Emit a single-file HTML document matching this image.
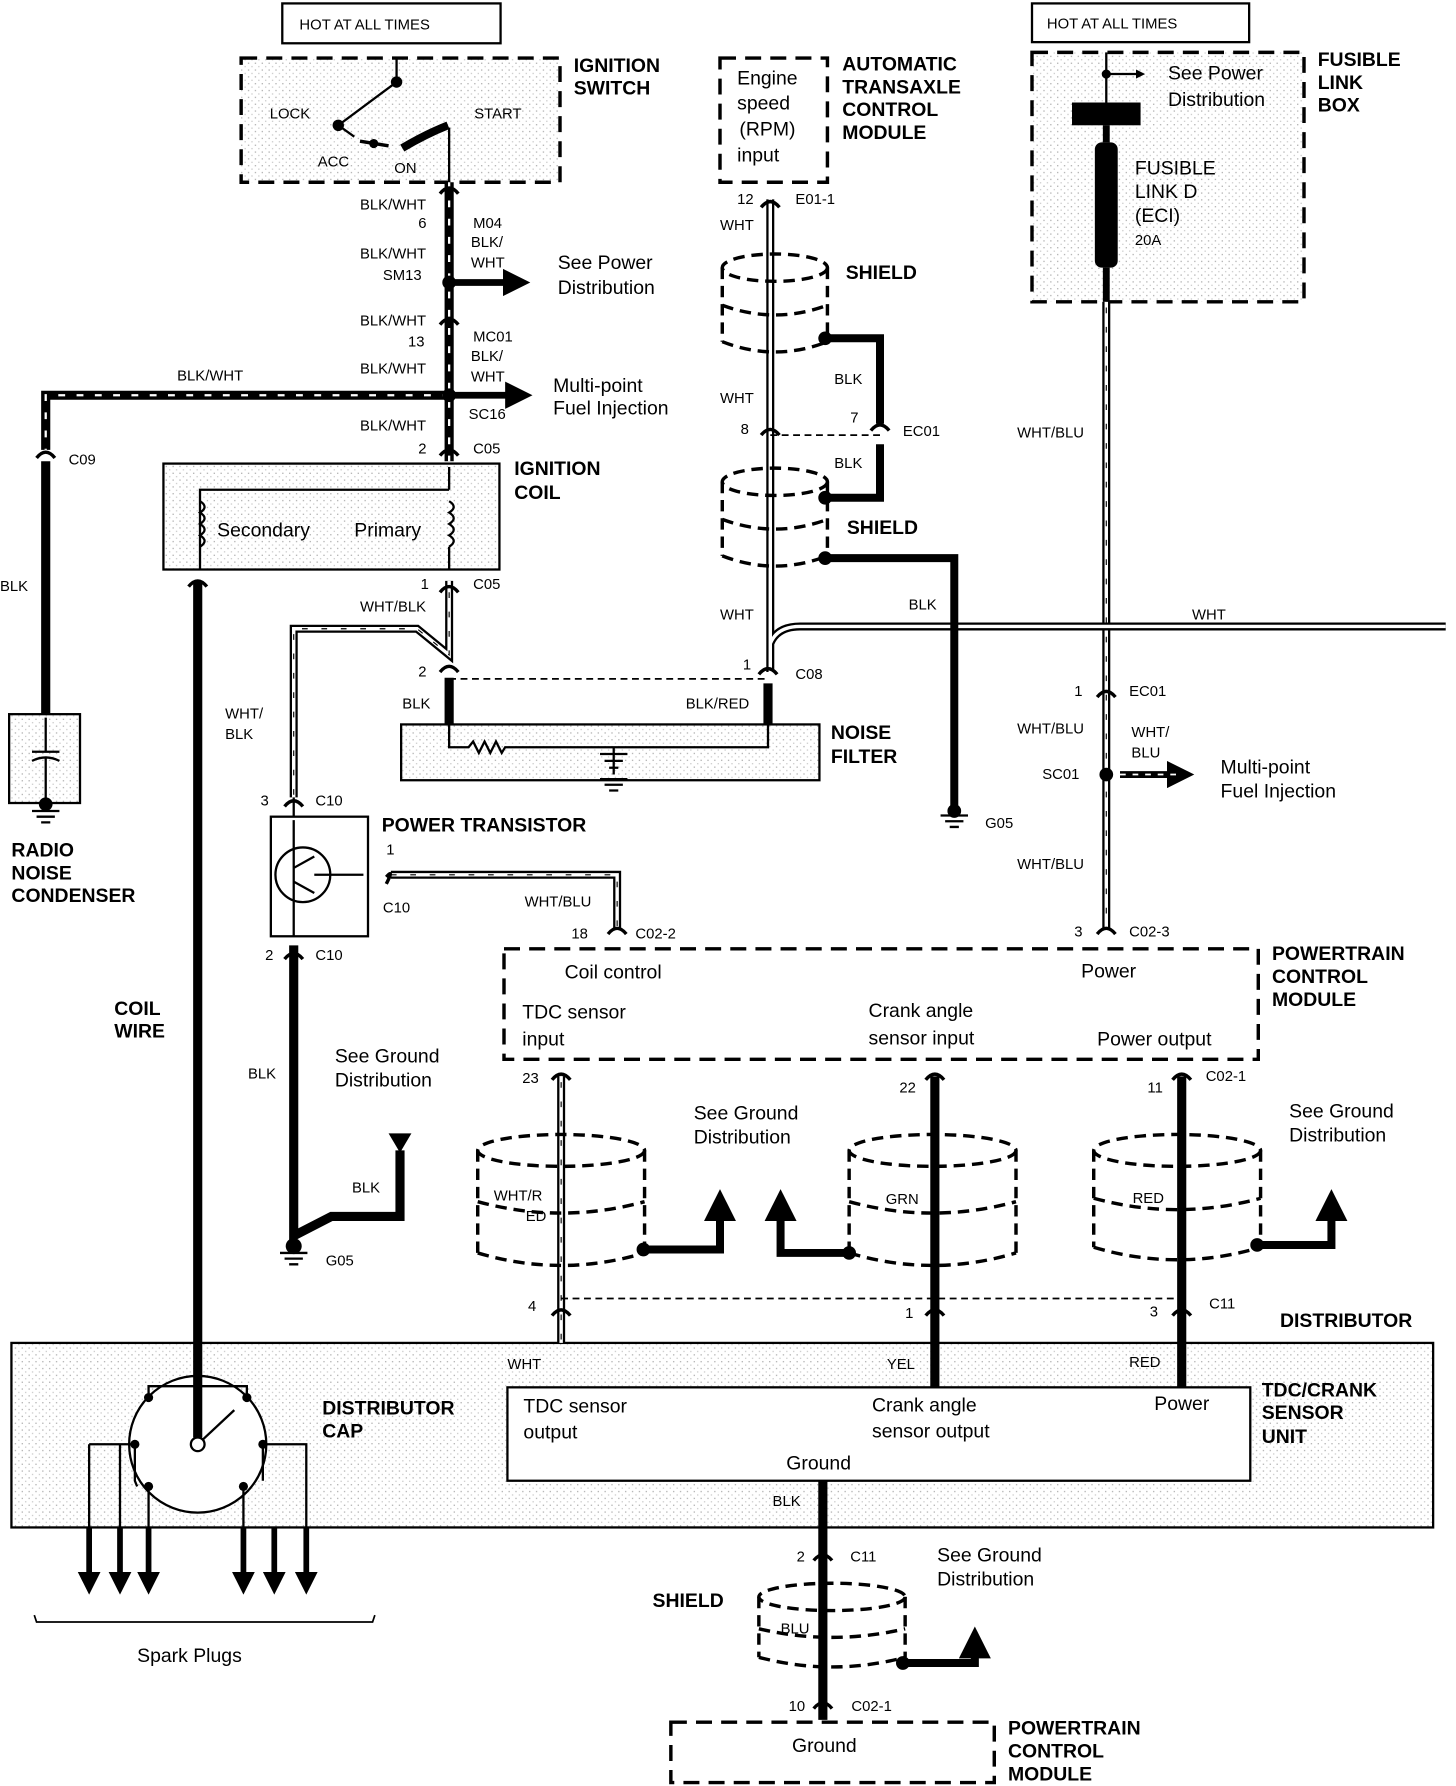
<!DOCTYPE html>
<html><head><meta charset="utf-8"><style>
html,body{margin:0;padding:0;background:#fff;}
svg{display:block;}
text{font-family:"Liberation Sans",sans-serif;fill:#000;}
.s{font-size:13px;}
.m{font-size:17px;}
.b{font-size:17px;font-weight:bold;}
</style></head><body>
<svg width="1456" height="1786" viewBox="0 0 1274 1568" preserveAspectRatio="none" xmlns="http://www.w3.org/2000/svg">
<defs>
<pattern id="st" width="6" height="6" patternUnits="userSpaceOnUse">
<rect width="6" height="6" fill="#fff"/><rect x="1" y="1" width="1" height="1" fill="#999"/><rect x="4" y="4" width="1" height="1" fill="#bbb"/>
</pattern>
<marker id="ar" markerWidth="4" markerHeight="4" refX="2" refY="2" orient="auto" markerUnits="strokeWidth"><path d="M0,0 L4,2 L0,4 z" fill="#000"/></marker>
</defs>
<g fill="none" stroke="#000">
<rect x="247" y="3" width="191" height="35" stroke-width="2"/>
<rect x="903" y="3" width="190" height="34" stroke-width="2"/>
<rect x="211" y="51" width="279" height="109" fill="url(#st)" stroke-width="3" stroke-dasharray="14,8"/>
<path d="M347,51 L347,72 L296,110 L310,120" stroke-width="2"/>
<path d="M315,124 L340,128" stroke-width="3"/>
<path d="M352,130 Q372,118 392,110" stroke-width="7"/>
<path d="M393,112 L393,160" stroke-width="2"/>
<rect x="630" y="51" width="94" height="109" stroke-width="3" stroke-dasharray="14,8"/>
<rect x="903" y="46" width="238" height="219" fill="url(#st)" stroke-width="3" stroke-dasharray="14,8"/>
<path d="M968,46 L968,90" stroke-width="2"/>
<rect x="143" y="407" width="294" height="93" fill="url(#st)" stroke-width="2"/>
<path d="M393,410 L393,430 M393,480 L393,500 M175,500 L175,430 L393,430" stroke-width="2"/>
<path d="M393,440 q8,5 0,10 q8,5 0,10 q8,5 0,10 q8,5 0,10" stroke-width="2"/>
<path d="M175,440 q8,5 0,10 q8,5 0,10 q8,5 0,10 q8,5 0,10" stroke-width="2"/>
<rect x="8" y="627" width="62" height="78" fill="url(#st)" stroke-width="2"/>
<path d="M40,630 L40,660 M28,660 L52,660 M28,668 Q40,662 52,668 M40,666 L40,705" stroke-width="2"/>
<rect x="351" y="636" width="366" height="49" fill="url(#st)" stroke-width="2"/>
<path d="M393,636 L393,656 L410,656 l4,-5 l5,10 l5,-10 l5,10 l5,-10 l5,10 l3,-5 L672,656 L672,636 M537,656 L537,680" stroke-width="2"/>
<path d="M525,662 L549,662 M529,668 L545,668 M533,674 L541,674" stroke-width="2"/>
<rect x="237" y="717" width="85" height="105" stroke-width="2"/>
<circle cx="265" cy="768" r="24" stroke-width="2"/>
<path d="M257,755 L257,781 M257,762 L275,752 M257,774 L275,784 M257,700 L257,717 M257,822 L257,720 M275,768 L318,768" stroke-width="2"/>
<rect x="441" y="833" width="660" height="97" stroke-width="3" stroke-dasharray="14,8"/>
<rect x="10" y="1179" width="1244" height="162" fill="url(#st)" stroke-width="2"/>
<rect x="444" y="1218" width="650" height="82" fill="#fff" stroke-width="2"/>
<circle cx="173" cy="1268" r="60" fill="#fff" stroke-width="2"/>
<path d="M130,1227 L130,1217 L216,1217 L216,1227 M105,1268 L118,1268 L118,1300 L120,1305 M240,1268 L230,1268 L230,1300 M78,1268 L105,1268 L105,1341 M240,1268 L268,1268 L268,1341 M130,1305 L130,1341 M213,1305 L213,1341" stroke-width="2"/>
<path d="M173,1268 L205,1238" stroke-width="2"/>
<path d="M78,1268 L78,1341" stroke-width="2"/>
<rect x="587" y="1512" width="283" height="53" stroke-width="3" stroke-dasharray="14,8"/>
<path d="M30,1418 L32,1424 L326,1424 L328,1418" stroke-width="1.5"/>
</g>
<g fill="#000">
<circle cx="347" cy="72" r="5"/><circle cx="296" cy="110" r="5"/><circle cx="327" cy="126" r="4"/>
<circle cx="968" cy="65" r="4"/>
<rect x="938" y="90" width="60" height="20"/>
<rect x="958" y="125" width="20" height="110" rx="6"/>
<circle cx="130" cy="1227" r="4"/><circle cx="216" cy="1227" r="4"/><circle cx="118" cy="1268" r="4"/><circle cx="230" cy="1268" r="4"/><circle cx="130" cy="1305" r="4"/><circle cx="213" cy="1305" r="4"/>
<circle cx="173" cy="1268" r="6" fill="#fff" stroke="#000" stroke-width="2"/>
</g>
<path d="M968,110 L968,125 M968,235 L968,265" stroke="#000" stroke-width="6"/>
<g fill="none">
<path d="M393,160 L393,405 M393,347 L40,347 L40,395" stroke="#000" stroke-width="8"/>
<path d="M393,160 L393,405 M393,347 L40,347 L40,395" stroke="#fff" stroke-width="2" stroke-dasharray="6,10"/>
<path d="M393,510 L393,575 L365,552 L257,552 L257,700" stroke="#000" stroke-width="7"/>
<path d="M393,510 L393,575 L365,552 L257,552 L257,700" stroke="#fff" stroke-width="3"/>
<path d="M393,520 L393,575 L365,552 L257,552 L257,700" stroke="#000" stroke-width="1" stroke-dasharray="5,12"/>
<path d="M968,265 L968,815 M342,768 L540,768 L540,815" stroke="#000" stroke-width="7"/>
<path d="M968,265 L968,815 M342,768 L540,768 L540,815" stroke="#fff" stroke-width="3"/>
<path d="M968,270 L968,815 M342,768 L540,768 L540,815" stroke="#000" stroke-width="1" stroke-dasharray="5,12"/>
<path d="M674,175 L674,590 M674,565 Q680,550 700,550 L1265,550" stroke="#000" stroke-width="7"/>
<path d="M674,175 L674,590 M674,565 Q680,550 700,550 L1265,550" stroke="#fff" stroke-width="3"/>
<path d="M491,945 L491,1179" stroke="#000" stroke-width="7"/>
<path d="M491,945 L491,1179" stroke="#fff" stroke-width="3"/>
<path d="M491,950 L491,1179" stroke="#000" stroke-width="1" stroke-dasharray="5,12"/>
<path d="M40,405 L40,627 M393,595 L393,636 M672,600 L672,636 M173,510 L173,1262 M257,830 L257,1085 L290,1068 L350,1068 L350,1010 M818,945 L818,1218 M1034,945 L1034,1218 M720,1300 L720,1510" stroke="#000" stroke-width="8"/>
<path d="M722,297 L770,297 L770,372 M722,437 L770,437 L770,390 M722,490 L835,490 L835,710" stroke="#000" stroke-width="7"/>
<path d="M393,596 L672,596 M674,382 L770,382 M491,1140 L1034,1140" stroke="#000" stroke-width="1.5" stroke-dasharray="6,4"/>
<!-- arrows (each separate) -->
<path d="M393,248 L452,248" stroke="#000" stroke-width="6" marker-end="url(#ar)"/>
<path d="M393,347 L454,347" stroke="#000" stroke-width="6" marker-end="url(#ar)"/>
<path d="M980,680 L1033,680" stroke="#000" stroke-width="6" marker-end="url(#ar)"/>
<path d="M980,680 L1030,680" stroke="#fff" stroke-width="1.5" stroke-dasharray="5,6"/>
<path d="M968,65 L998,65" stroke="#000" stroke-width="2" marker-end="url(#ar)"/>
<path d="M563,1097 L630,1097 L630,1058" stroke="#000" stroke-width="7" marker-end="url(#ar)"/>
<path d="M743,1100 L683,1100 L683,1058" stroke="#000" stroke-width="7" marker-end="url(#ar)"/>
<path d="M1100,1093 L1165,1093 L1165,1058" stroke="#000" stroke-width="7" marker-end="url(#ar)"/>
<path d="M790,1460 L853,1460 L853,1442" stroke="#000" stroke-width="7" marker-end="url(#ar)"/>
<path d="M78,1341 L78,1390" stroke="#000" stroke-width="5" marker-end="url(#ar)"/>
<path d="M105,1341 L105,1390" stroke="#000" stroke-width="5" marker-end="url(#ar)"/>
<path d="M130,1341 L130,1390" stroke="#000" stroke-width="5" marker-end="url(#ar)"/>
<path d="M213,1341 L213,1390" stroke="#000" stroke-width="5" marker-end="url(#ar)"/>
<path d="M240,1341 L240,1390" stroke="#000" stroke-width="5" marker-end="url(#ar)"/>
<path d="M268,1341 L268,1390" stroke="#000" stroke-width="5" marker-end="url(#ar)"/>
<g stroke="#000" stroke-width="3" stroke-dasharray="10,6">
<ellipse cx="678" cy="235" rx="46" ry="12"/><path d="M632,235 L632,300 M724,235 L724,300 M632,300 Q678,318 724,300 M632,268 Q678,285 724,268"/>
<ellipse cx="678" cy="423" rx="46" ry="12"/><path d="M632,423 L632,488 M724,423 L724,488 M632,488 Q678,506 724,488 M632,456 Q678,473 724,456"/>
<ellipse cx="491" cy="1010" rx="73" ry="14"/><path d="M418,1010 L418,1100 M564,1010 L564,1100 M418,1100 Q491,1122 564,1100 M418,1055 Q491,1075 564,1055"/>
<ellipse cx="816" cy="1010" rx="73" ry="14"/><path d="M743,1010 L743,1100 M889,1010 L889,1100 M743,1100 Q816,1122 889,1100 M743,1055 Q816,1075 889,1055"/>
<ellipse cx="1030" cy="1010" rx="73" ry="14"/><path d="M957,1010 L957,1095 M1103,1010 L1103,1095 M957,1095 Q1030,1117 1103,1095 M957,1052 Q1030,1072 1103,1052"/>
<ellipse cx="728" cy="1402" rx="64" ry="12"/><path d="M664,1402 L664,1455 M792,1402 L792,1455 M664,1455 Q728,1472 792,1455 M664,1430 Q728,1445 792,1430"/>
</g>
<g stroke="#000" stroke-width="3" fill="none">
<path d="M385,170 Q393,160 401,170 M385,285 Q393,275 401,285 M385,400 Q393,390 401,400 M385,520 Q393,510 401,520 M385,590 Q393,580 401,590 M32,402 Q40,392 48,402 M666,182 Q674,172 682,182 M666,382 Q674,372 682,382 M762,378 Q770,368 778,378 M664,592 Q672,582 680,592 M960,612 Q968,602 976,612 M960,820 Q968,810 976,820 M532,820 Q540,810 548,820 M249,708 Q257,698 265,708 M249,842 Q257,832 265,842 M338,770 Q345,762 338,776 M165,515 Q173,505 181,515 M483,948 Q491,938 499,948 M810,948 Q818,938 826,948 M1026,948 Q1034,938 1042,948 M483,1155 Q491,1145 499,1155 M810,1155 Q818,1145 826,1155 M1026,1155 Q1034,1145 1042,1155 M712,1370 Q720,1360 728,1370 M712,1500 Q720,1490 728,1500"/>
</g>
<g stroke="#000" stroke-width="2">
<path d="M28,712 L52,712 M32,717 L48,717 M36,722 L44,722"/>
<path d="M823,716 L847,716 M827,721 L843,721 M831,726 L839,726"/>
<path d="M245,1100 L269,1100 M249,1105 L265,1105 M253,1110 L261,1110"/>
<path d="M525,684 L549,684 M529,689 L545,689 M533,694 L541,694"/>
</g>
<g fill="#000">
<circle cx="40" cy="706" r="6"/><circle cx="835" cy="712" r="6"/><circle cx="257" cy="1094" r="7"/>
<circle cx="722" cy="297" r="6"/><circle cx="722" cy="437" r="6"/><circle cx="722" cy="490" r="6"/>
<circle cx="563" cy="1097" r="6"/><circle cx="743" cy="1100" r="6"/><circle cx="1100" cy="1093" r="6"/><circle cx="790" cy="1460" r="6"/>
<circle cx="393" cy="248" r="6"/><circle cx="393" cy="347" r="6"/><circle cx="968" cy="680" r="6"/>
<path d="M340,995 L360,995 L350,1012 z"/>
</g>
</g>
<text x="262" y="26" class="s">HOT AT ALL TIMES</text>
<text x="916" y="25" class="s">HOT AT ALL TIMES</text>
<text x="502" y="63" class="b">IGNITION</text><text x="502" y="83" class="b">SWITCH</text>
<text x="236" y="104" class="s">LOCK</text><text x="415" y="104" class="s">START</text>
<text x="278" y="146" class="s">ACC</text><text x="345" y="152" class="s">ON</text>
<text x="645" y="74" class="m">Engine</text><text x="645" y="96" class="m">speed</text><text x="647" y="119" class="m">(RPM)</text><text x="645" y="142" class="m">input</text>
<text x="737" y="62" class="b">AUTOMATIC</text><text x="737" y="82" class="b">TRANSAXLE</text><text x="737" y="102" class="b">CONTROL</text><text x="737" y="122" class="b">MODULE</text>
<text x="1153" y="58" class="b">FUSIBLE</text><text x="1153" y="78" class="b">LINK</text><text x="1153" y="98" class="b">BOX</text>
<text x="1022" y="70" class="m">See Power</text><text x="1022" y="93" class="m">Distribution</text>
<text x="993" y="153" class="m">FUSIBLE</text><text x="993" y="174" class="m">LINK D</text><text x="993" y="195" class="m">(ECI)</text><text x="993" y="215" class="s">20A</text>
<text x="315" y="184" class="s">BLK/WHT</text><text x="366" y="200" class="s">6</text><text x="414" y="200" class="s">M04</text><text x="412" y="217" class="s">BLK/</text><text x="412" y="235" class="s">WHT</text>
<text x="315" y="227" class="s">BLK/WHT</text><text x="335" y="246" class="s">SM13</text>
<text x="488" y="236" class="m">See Power</text><text x="488" y="258" class="m">Distribution</text>
<text x="315" y="286" class="s">BLK/WHT</text><text x="357" y="304" class="s">13</text><text x="414" y="300" class="s">MC01</text><text x="412" y="317" class="s">BLK/</text><text x="412" y="335" class="s">WHT</text>
<text x="315" y="328" class="s">BLK/WHT</text><text x="155" y="334" class="s">BLK/WHT</text>
<text x="484" y="344" class="m">Multi-point</text><text x="484" y="364" class="m">Fuel Injection</text>
<text x="410" y="368" class="s">SC16</text><text x="315" y="378" class="s">BLK/WHT</text><text x="366" y="398" class="s">2</text><text x="414" y="398" class="s">C05</text>
<text x="60" y="408" class="s">C09</text><text x="0" y="519" class="s">BLK</text>
<text x="450" y="417" class="b">IGNITION</text><text x="450" y="438" class="b">COIL</text>
<text x="190" y="471" class="m">Secondary</text><text x="310" y="471" class="m">Primary</text>
<text x="368" y="517" class="s">1</text><text x="414" y="517" class="s">C05</text><text x="315" y="537" class="s">WHT/BLK</text>
<text x="366" y="594" class="s">2</text><text x="352" y="622" class="s">BLK</text><text x="600" y="622" class="s">BLK/RED</text>
<text x="727" y="649" class="b">NOISE</text><text x="727" y="670" class="b">FILTER</text>
<text x="645" y="179" class="s">12</text><text x="696" y="179" class="s">E01-1</text><text x="630" y="202" class="s">WHT</text>
<text x="740" y="245" class="b">SHIELD</text><text x="730" y="337" class="s">BLK</text><text x="630" y="354" class="s">WHT</text>
<text x="648" y="381" class="s">8</text><text x="744" y="371" class="s">7</text><text x="790" y="383" class="s">EC01</text>
<text x="730" y="411" class="s">BLK</text><text x="741" y="469" class="b">SHIELD</text>
<text x="630" y="544" class="s">WHT</text><text x="795" y="535" class="s">BLK</text><text x="1043" y="544" class="s">WHT</text>
<text x="650" y="588" class="s">1</text><text x="696" y="596" class="s">C08</text><text x="862" y="727" class="s">G05</text>
<text x="890" y="384" class="s">WHT/BLU</text><text x="940" y="611" class="s">1</text><text x="988" y="611" class="s">EC01</text>
<text x="890" y="644" class="s">WHT/BLU</text><text x="990" y="647" class="s">WHT/</text><text x="990" y="665" class="s">BLU</text>
<text x="912" y="684" class="s">SC01</text><text x="1068" y="679" class="m">Multi-point</text><text x="1068" y="700" class="m">Fuel Injection</text>
<text x="890" y="763" class="s">WHT/BLU</text><text x="940" y="822" class="s">3</text><text x="988" y="822" class="s">C02-3</text>
<text x="197" y="631" class="s">WHT/</text><text x="197" y="649" class="s">BLK</text>
<text x="10" y="752" class="b">RADIO</text><text x="10" y="772" class="b">NOISE</text><text x="10" y="792" class="b">CONDENSER</text>
<text x="228" y="707" class="s">3</text><text x="276" y="707" class="s">C10</text><text x="334" y="730" class="b">POWER TRANSISTOR</text>
<text x="338" y="750" class="s">1</text><text x="335" y="801" class="s">C10</text><text x="459" y="796" class="s">WHT/BLU</text>
<text x="500" y="824" class="s">18</text><text x="556" y="824" class="s">C02-2</text>
<text x="232" y="843" class="s">2</text><text x="276" y="843" class="s">C10</text>
<text x="1113" y="843" class="b">POWERTRAIN</text><text x="1113" y="863" class="b">CONTROL</text><text x="1113" y="883" class="b">MODULE</text>
<text x="494" y="859" class="m">Coil control</text><text x="946" y="858" class="m">Power</text>
<text x="457" y="894" class="m">TDC sensor</text><text x="457" y="918" class="m">input</text>
<text x="760" y="893" class="m">Crank angle</text><text x="760" y="917" class="m">sensor input</text><text x="960" y="918" class="m">Power output</text>
<text x="100" y="891" class="b">COIL</text><text x="100" y="911" class="b">WIRE</text>
<text x="217" y="947" class="s">BLK</text><text x="293" y="933" class="m">See Ground</text><text x="293" y="954" class="m">Distribution</text>
<text x="308" y="1047" class="s">BLK</text><text x="285" y="1111" class="s">G05</text>
<text x="457" y="951" class="s">23</text><text x="787" y="959" class="s">22</text><text x="1004" y="959" class="s">11</text><text x="1055" y="949" class="s">C02-1</text>
<text x="607" y="983" class="m">See Ground</text><text x="607" y="1004" class="m">Distribution</text>
<text x="1128" y="981" class="m">See Ground</text><text x="1128" y="1002" class="m">Distribution</text>
<text x="432" y="1054" class="s">WHT/R</text><text x="460" y="1072" class="s">ED</text><text x="775" y="1057" class="s">GRN</text><text x="991" y="1056" class="s">RED</text>
<text x="462" y="1151" class="s">4</text><text x="792" y="1157" class="s">1</text><text x="1006" y="1156" class="s">3</text><text x="1058" y="1149" class="s">C11</text>
<text x="1120" y="1165" class="b">DISTRIBUTOR</text>
<text x="444" y="1202" class="s">WHT</text><text x="776" y="1202" class="s">YEL</text><text x="988" y="1200" class="s">RED</text>
<text x="458" y="1240" class="m">TDC sensor</text><text x="458" y="1263" class="m">output</text>
<text x="763" y="1239" class="m">Crank angle</text><text x="763" y="1262" class="m">sensor output</text>
<text x="1010" y="1238" class="m">Power</text><text x="688" y="1290" class="m">Ground</text>
<text x="1104" y="1226" class="b">TDC/CRANK</text><text x="1104" y="1246" class="b">SENSOR</text><text x="1104" y="1267" class="b">UNIT</text>
<text x="282" y="1242" class="b">DISTRIBUTOR</text><text x="282" y="1262" class="b">CAP</text>
<text x="676" y="1322" class="s">BLK</text><text x="697" y="1371" class="s">2</text><text x="744" y="1371" class="s">C11</text>
<text x="820" y="1371" class="m">See Ground</text><text x="820" y="1392" class="m">Distribution</text>
<text x="571" y="1411" class="b">SHIELD</text><text x="683" y="1434" class="s">BLU</text>
<text x="120" y="1459" class="m">Spark Plugs</text>
<text x="690" y="1502" class="s">10</text><text x="745" y="1502" class="s">C02-1</text>
<text x="693" y="1538" class="m">Ground</text>
<text x="882" y="1523" class="b">POWERTRAIN</text><text x="882" y="1543" class="b">CONTROL</text><text x="882" y="1563" class="b">MODULE</text>
</svg>
</body></html>
